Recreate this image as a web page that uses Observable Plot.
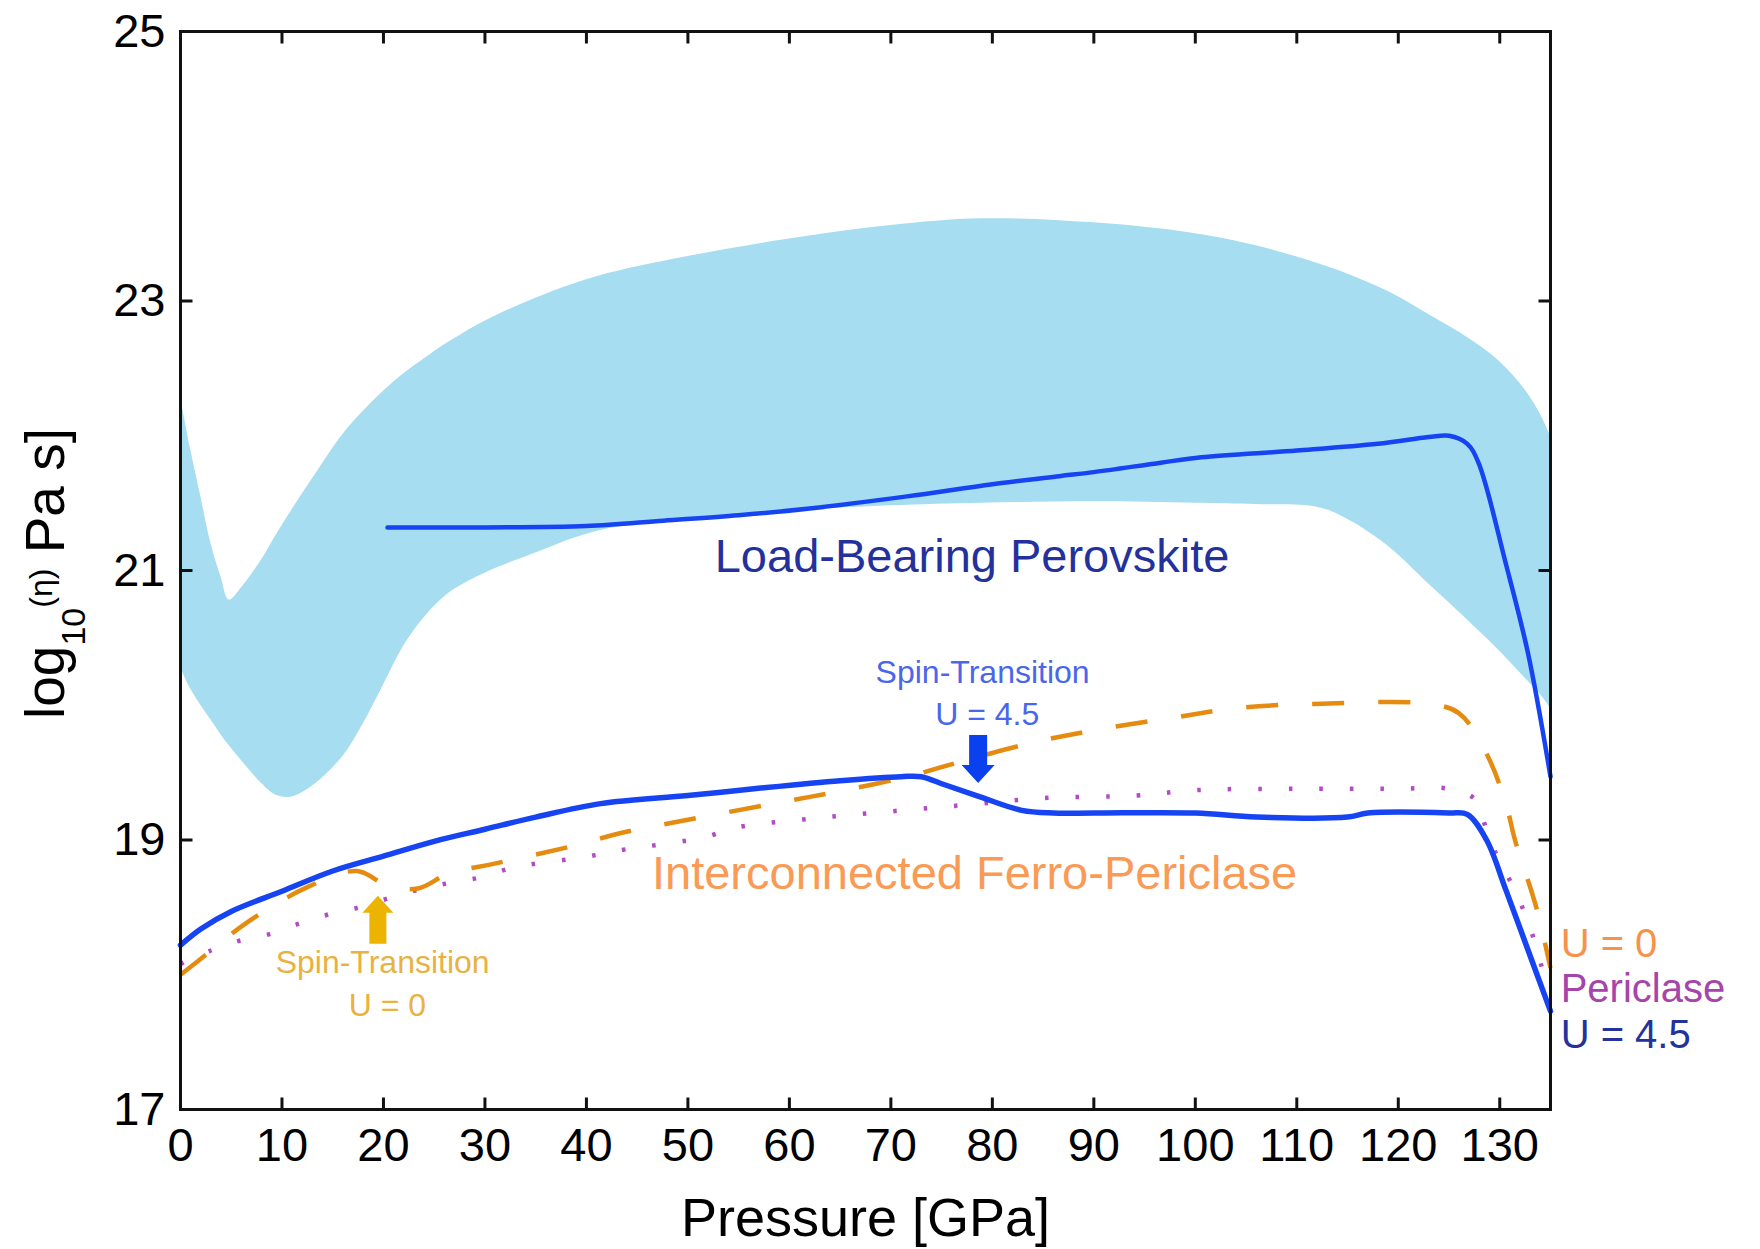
<!DOCTYPE html>
<html>
<head>
<meta charset="utf-8">
<script src="https://cdn.jsdelivr.net/npm/d3@7"></script>
<script src="https://cdn.jsdelivr.net/npm/@observablehq/plot@0.6"></script>
<style>
  html, body { margin: 0; padding: 0; background: #fff; }
  #chart svg { display: block; }
</style>
</head>
<body>
<div id="chart"></div>
<script>
// ---------- data ----------
// Perovskite viscosity range (shaded band)
const bandP    = [0, 1, 2, 3, 4, 4.8, 6, 8, 9.5, 11, 13, 16, 18, 20, 22, 24, 25.5, 27, 30, 35, 41, 50, 60, 70, 79, 90, 100, 106, 112, 115, 119, 123, 127, 130, 132.5, 134, 135];
const bandLow  = [20.28, 20.12, 20.0, 19.89, 19.78, 19.7, 19.59, 19.42, 19.33, 19.32, 19.4, 19.62, 19.86, 20.15, 20.44, 20.65, 20.77, 20.86, 20.98, 21.13, 21.29, 21.38, 21.44, 21.48, 21.5, 21.51, 21.5, 21.49, 21.47, 21.38, 21.18, 20.9, 20.62, 20.4, 20.2, 20.08, 19.98];
const bandHigh = [22.29, 21.9, 21.55, 21.2, 20.95, 20.78, 20.87, 21.08, 21.27, 21.45, 21.68, 22.01, 22.18, 22.33, 22.46, 22.57, 22.65, 22.72, 22.85, 23.02, 23.18, 23.33, 23.46, 23.56, 23.61, 23.58, 23.5, 23.41, 23.28, 23.2, 23.07, 22.9, 22.72, 22.55, 22.34, 22.16, 22.0];

// Load-bearing perovskite
const pvP   = [20.4, 30, 40, 47.6, 55, 62, 71.6, 80, 86.6, 90, 96.6, 100.6, 110, 118, 123, 125, 126.8, 127.9, 130.6, 132.8, 135];
const pvEta = [21.32, 21.32, 21.33, 21.37, 21.41, 21.46, 21.55, 21.64, 21.7, 21.73, 21.8, 21.84, 21.89, 21.94, 21.99, 22.0, 21.94, 21.8, 21.05, 20.38, 19.47];

// Ferro-periclase, U = 4.5
const fp45P   = [0, 2, 5, 10, 15, 20, 25, 30, 35, 41.4, 50, 56.5, 65, 71, 73, 75.3, 78.8, 82.9, 86, 90, 100, 106, 115, 117, 125, 126.8, 128.7, 130.6, 132.8, 135];
const fp45Eta = [18.22, 18.34, 18.47, 18.62, 18.77, 18.88, 18.99, 19.08, 19.17, 19.27, 19.33, 19.38, 19.44, 19.47, 19.47, 19.41, 19.32, 19.22, 19.2, 19.2, 19.2, 19.17, 19.17, 19.2, 19.2, 19.19, 19.0, 18.63, 18.18, 17.73];

// Ferro-periclase, U = 0
const fp0P   = [0, 2.7, 6.4, 12.5, 17.4, 20.4, 23.4, 26.4, 31.3, 38.9, 43.3, 50, 58.4, 64.8, 71.6, 77.3, 84.4, 91.2, 98, 104.2, 111.7, 123, 126, 128.7, 130.6, 131.5, 133.6, 135];
const fp0Eta = [18.0, 18.16, 18.38, 18.65, 18.77, 18.66, 18.64, 18.75, 18.83, 18.96, 19.05, 19.15, 19.27, 19.36, 19.47, 19.59, 19.73, 19.83, 19.91, 19.98, 20.01, 20.01, 19.94, 19.64, 19.27, 19.0, 18.5, 18.05];

// Periclase
const perP   = [0, 3, 5.7, 8.7, 11.7, 14.7, 17.6, 20.6, 23.4, 26.4, 29.4, 32.5, 35.5, 39.6, 43, 51.6, 54.6, 63.7, 72.7, 78.8, 84.8, 94.2, 100, 110, 120, 125, 127.6, 128.5, 129.5, 131, 132.5, 133.5, 134.3, 135];
const perEta = [18.08, 18.18, 18.25, 18.3, 18.38, 18.45, 18.5, 18.57, 18.63, 18.68, 18.72, 18.79, 18.83, 18.87, 18.92, 19.02, 19.09, 19.17, 19.23, 19.27, 19.31, 19.33, 19.37, 19.38, 19.38, 19.38, 19.3, 19.12, 18.92, 18.7, 18.45, 18.23, 18.02, 17.9];

// Axes
const xTicks = [0, 10, 20, 30, 40, 50, 60, 70, 80, 90, 100, 110, 120, 130];
const yTicks = [17, 19, 21, 23, 25];
const xTitle = "Pressure [GPa]";
const yTitle = "log10(η) Pa s]";

// Annotations (text, pressure, log10 viscosity)
const regionLabels = [
  {text: "Load-Bearing Perovskite", p: 78.0, eta: 21.10, group: "pv"},
  {text: "Interconnected Ferro-Periclase", p: 78.25, eta: 18.745, group: "fp"}
];
const spinLabelsU45 = [
  {text: "Spin-Transition", p: 79.04, eta: 20.24},
  {text: "U = 4.5", p: 79.5, eta: 19.93}
];
const spinLabelsU0 = [
  {text: "Spin-Transition", p: 19.92, eta: 18.087},
  {text: "U = 0", p: 20.38, eta: 17.772}
];
const endLabels = [
  {text: "U = 0", p: 136.0, eta: 18.225, group: "u0"},
  {text: "Periclase", p: 136.0, eta: 17.89, group: "per"},
  {text: "U = 4.5", p: 136.0, eta: 17.555, group: "u45"}
];
const arrowU45 = [{p: 78.6, eta: 19.78}];
const arrowU0  = [{p: 19.45, eta: 18.23}];

// ---------- build tables ----------
const band = bandP.map((p, i) => ({p, lo: bandLow[i], hi: bandHigh[i]}));
const series = (P, E) => P.map((p, i) => ({p, eta: E[i]}));
const pv = series(pvP, pvEta);
const fp45 = series(fp45P, fp45Eta);
const fp0 = series(fp0P, fp0Eta);
const per = series(perP, perEta);

// ---------- shapes ----------
const tickLine = { draw(ctx, l) { ctx.moveTo(0, 0); ctx.lineTo(0, -l); } };
const blockArrow = (shaftW, headW, headH) => ({
  draw(ctx, l) {
    const s = shaftW / 2, h = headW / 2, b = l - headH;
    ctx.moveTo(-s, 0); ctx.lineTo(-s, -b); ctx.lineTo(-h, -b);
    ctx.lineTo(0, -l); ctx.lineTo(h, -b); ctx.lineTo(s, -b);
    ctx.lineTo(s, 0); ctx.closePath();
  }
});

const font = "'Liberation Sans', Arial, Helvetica, sans-serif";
const endColor = {u0: "#f7924a", per: "#a545aa", u45: "#24339c"};

const chart = Plot.plot({
  width: 1760,
  height: 1249,
  marginLeft: 180,
  marginRight: 210,
  marginTop: 31,
  marginBottom: 140,
  style: {fontFamily: font, background: "#fff", color: "#000"},
  x: {domain: [0, 135]},
  y: {domain: [17, 25]},
  marks: [
    Plot.areaY(band, {x: "p", y1: "lo", y2: "hi", fill: "#a6ddf1", curve: "catmull-rom"}),
    Plot.line(per, {x: "p", y: "eta", stroke: "#b24cc4", strokeWidth: 4.5, strokeDasharray: "3.5 27", strokeLinecap: "butt", curve: "catmull-rom"}),
    Plot.line(fp0, {x: "p", y: "eta", stroke: "#e48b10", strokeWidth: 4.5, strokeDasharray: "32 34", strokeLinecap: "butt", curve: "catmull-rom"}),
    Plot.line(fp45, {x: "p", y: "eta", stroke: "#1744f2", strokeWidth: 5.5, curve: "catmull-rom"}),
    Plot.line(pv, {x: "p", y: "eta", stroke: "#1744f2", strokeWidth: 4.5, curve: "catmull-rom"}),

    // arrows
    Plot.vector(arrowU45, {x: "p", y: "eta", length: 48, rotate: 180, anchor: "start", shape: blockArrow(18, 33, 18), fill: "#0b40ee", stroke: "none"}),
    Plot.vector(arrowU0, {x: "p", y: "eta", length: 48, rotate: 0, anchor: "start", shape: blockArrow(17, 31, 17), fill: "#ecb300", stroke: "none"}),

    // annotations
    Plot.text(regionLabels, {x: "p", y: "eta", text: "text", fontSize: 47, fill: d => d.group === "pv" ? "#24319c" : "#f99a55"}),
    Plot.text(spinLabelsU45, {x: "p", y: "eta", text: "text", fontSize: 32, fill: "#4a66ea"}),
    Plot.text(spinLabelsU0, {x: "p", y: "eta", text: "text", fontSize: 32, fill: "#e9b23f"}),
    Plot.text(endLabels, {x: "p", y: "eta", text: "text", fontSize: 40, textAnchor: "start", fill: d => endColor[d.group]}),

    // frame and inward ticks
    Plot.frame({stroke: "#111", strokeWidth: 3}),
    Plot.vector(xTicks, {x: d => d, frameAnchor: "bottom", length: 12, rotate: 0, anchor: "start", shape: tickLine, stroke: "#111", strokeWidth: 3, strokeLinecap: "butt"}),
    Plot.vector(xTicks, {x: d => d, frameAnchor: "top", length: 12, rotate: 180, anchor: "start", shape: tickLine, stroke: "#111", strokeWidth: 3, strokeLinecap: "butt"}),
    Plot.vector(yTicks, {y: d => d, frameAnchor: "left", length: 12, rotate: 90, anchor: "start", shape: tickLine, stroke: "#111", strokeWidth: 3, strokeLinecap: "butt"}),
    Plot.vector(yTicks, {y: d => d, frameAnchor: "right", length: 12, rotate: -90, anchor: "start", shape: tickLine, stroke: "#111", strokeWidth: 3, strokeLinecap: "butt"}),

    // axis labels
    Plot.axisX({ticks: xTicks, tickSize: 0, tickPadding: 18, fontSize: 47, tickFormat: d => String(d), label: null}),
    Plot.axisY({ticks: yTicks, tickSize: 0, tickPadding: 15, fontSize: 47, tickFormat: d => String(d), label: null}),
    Plot.text([xTitle], {text: d => d, frameAnchor: "bottom", lineAnchor: "middle", textAnchor: "middle", dy: 109, fontSize: 54}),
    Plot.text([yTitle], {text: d => d, frameAnchor: "left", lineAnchor: "middle", textAnchor: "middle", dx: -134, dy: 3, rotate: -90, fontSize: 55})
  ]
});

// y title with subscript and small raised (η)
const ns = "http://www.w3.org/2000/svg";
const yt = [...chart.querySelectorAll("text")].find(e => e.textContent === yTitle);
if (yt) {
  yt.textContent = "";
  const parts = [["log", null, 0], ["10", 34, 21], ["(η)", 32, -33], [" Pa s]", null, 12]];
  for (const [str, size, dy] of parts) {
    const ts = document.createElementNS(ns, "tspan");
    if (size) ts.setAttribute("font-size", size);
    if (dy) ts.setAttribute("dy", dy);
    ts.textContent = str;
    yt.appendChild(ts);
  }
}

document.getElementById("chart").appendChild(chart);
</script>
</body>
</html>
